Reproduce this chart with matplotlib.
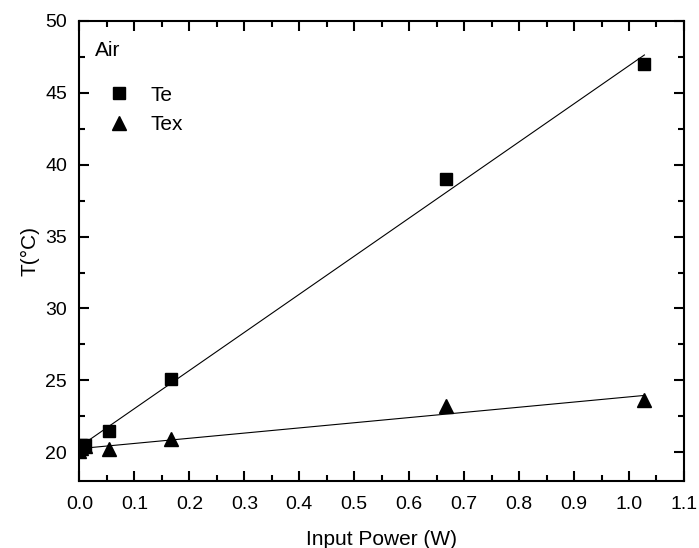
import numpy as np
import matplotlib.pyplot as plt
from matplotlib.ticker import MultipleLocator

plt.rcParams['font.family'] = ['Liberation Sans', 'DejaVu Sans']

# Input power (W) and measured temperatures (deg C)
power = [0.0, 0.003, 0.01, 0.053, 0.167, 0.667, 1.028]
te = [20.2, 20.5, 20.5, 21.5, 25.1, 39.0, 47.0]
tex = [20.1, 20.3, 20.4, 20.2, 20.9, 23.2, 23.6]

fig = plt.figure(figsize=(6.99, 5.48), dpi=100)
ax = fig.add_axes([0.1137, 0.1223, 0.8648, 0.8394])

ax.plot(power, te, 's', color='black', markersize=8, label='Te')
ax.plot(power, tex, '^', color='black', markersize=10, label='Tex')

# linear fits
xfit = np.array([min(power), max(power)])
for series in (te, tex):
    k, b = np.polyfit(power, series, 1)
    ax.plot(xfit, k * xfit + b, color='black', linewidth=0.8)

ax.set_xlim(0, 1.1)
ax.set_ylim(18, 50)
ax.xaxis.set_major_locator(MultipleLocator(0.1))
ax.xaxis.set_minor_locator(MultipleLocator(0.05))
ax.yaxis.set_major_locator(MultipleLocator(5))
ax.yaxis.set_minor_locator(MultipleLocator(2.5))
ax.tick_params(which='both', direction='in', top=True, right=True, width=1.5)
ax.tick_params(which='major', length=7, labelsize=14)
ax.tick_params(axis='x', which='major', pad=11)
ax.tick_params(axis='y', which='major', pad=9)
ax.tick_params(which='minor', length=4)
for s in ax.spines.values():
    s.set_linewidth(1.5)

ax.set_xlabel('Input Power (W)', fontsize=15, labelpad=12)
ax.set_ylabel('T(°C)', fontsize=15, labelpad=4)

ax.text(0.026, 0.935, 'Air', transform=ax.transAxes, fontsize=15, va='center')
ax.legend(loc='upper left', bbox_to_anchor=(0.0, 0.9), frameon=False,
          fontsize=15, handletextpad=0.5, labelspacing=0.5)

plt.savefig('out.png', dpi=100)
